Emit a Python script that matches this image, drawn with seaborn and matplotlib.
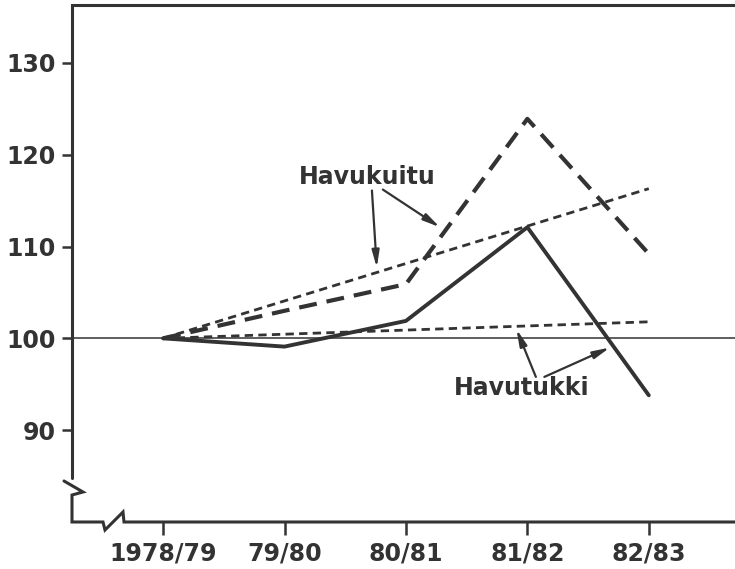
import matplotlib
matplotlib.use("Agg")
import matplotlib.pyplot as plt
import seaborn as sns
import numpy as np
import pandas as pd

# index values (1978/79 = 100)
years = ["1978/79", "79/80", "80/81", "81/82", "82/83"]
havutukki = [100, 99.1, 101.9, 112.1, 93.8]
havukuitu = [100, 103.0, 105.9, 123.9, 109.2]
trend_years = ["1978/79", "82/83"]
trend_kuitu = [100, 116.3]
trend_tukki = [100, 101.8]
base = 100
y_ticks = [90, 100, 110, 120, 130]

ink = "#333333"

sns.set_style("white")
plt.rcParams['font.family'] = ['DejaVu Sans']
plt.rcParams['font.weight'] = 'bold'
plt.rcParams['text.color'] = ink

fig = plt.figure(figsize=(7.35, 5.69), dpi=100)
ax = fig.add_axes([72 / 735, 47 / 569, 663 / 735, 517 / 569])

xpos = {y: i for i, y in enumerate(years)}
df = pd.DataFrame({"x": [xpos[y] for y in years],
                   "tukki": havutukki, "kuitu": havukuitu})
tr = pd.DataFrame({"x": [xpos[y] for y in trend_years],
                   "kuitu": trend_kuitu, "tukki": trend_tukki})

ax.axhline(base, color=ink, linewidth=1.1)

sns.lineplot(data=tr, x="x", y="kuitu", ax=ax, color=ink, linewidth=2.0,
             linestyle=(0, (3.0, 1.9)))
sns.lineplot(data=tr, x="x", y="tukki", ax=ax, color=ink, linewidth=2.0,
             linestyle=(0, (3.0, 1.9)))
sns.lineplot(data=df, x="x", y="kuitu", ax=ax, color=ink, linewidth=3.0,
             linestyle=(0, (4.3, 2.4)))
sns.lineplot(data=df, x="x", y="tukki", ax=ax, color=ink, linewidth=2.8)

ax.set_xlim(-0.75, 4.71)
ax.set_ylim(80, 136.3)
ax.set_xticks(range(len(years)))
ax.set_xticklabels(years)
ax.set_yticks(y_ticks)
ax.set_xlabel("")
ax.set_ylabel("")
ax.tick_params(axis="both", colors=ink, labelsize=17, width=1.8,
               direction="out")
ax.tick_params(axis="x", length=9, pad=5)
ax.tick_params(axis="y", length=7, pad=5)
ax.xaxis.set_ticks_position("bottom")
ax.yaxis.set_ticks_position("left")

for s in ax.spines.values():
    s.set_visible(False)


# frame drawn by hand so the axis breaks can be shown
def px(x, y):
    return (x - 72) / 663, (522 - y) / 517


frame_kw = dict(transform=ax.transAxes, color=ink, linewidth=2.2,
                clip_on=False, solid_joinstyle="miter")
top = [px(72, 478), px(72, 5), px(735, 5)]
ax.plot(*zip(*top), **frame_kw)
bottom = [px(64, 481), px(83, 492), px(72, 495), px(72, 522),
          px(103, 522), px(105, 530), px(123, 512), px(124, 522),
          px(735, 522)]
ax.plot(*zip(*bottom), **frame_kw)

arrow_kw = dict(arrowstyle="-|>,head_length=1.0,head_width=0.22",
                color=ink, lw=1.6, shrinkA=0, shrinkB=0)
txt_kw = dict(fontsize=17, color=ink, ha="center", va="center",
              fontweight="bold")

ax.text(1.68, 117.6, "Havukuitu", **txt_kw)
ax.annotate("", xy=(1.76, 107.7), xytext=(1.72, 116.1), arrowprops=arrow_kw)
ax.annotate("", xy=(2.28, 112.1), xytext=(1.81, 116.2), arrowprops=arrow_kw)

ax.text(2.95, 94.6, "Havutukki", **txt_kw)
ax.annotate("", xy=(2.91, 101.0), xytext=(3.07, 95.8), arrowprops=arrow_kw)
ax.annotate("", xy=(3.68, 99.0), xytext=(3.14, 95.8), arrowprops=arrow_kw)

fig.savefig("out.png", dpi=100)
plt.close(fig)
